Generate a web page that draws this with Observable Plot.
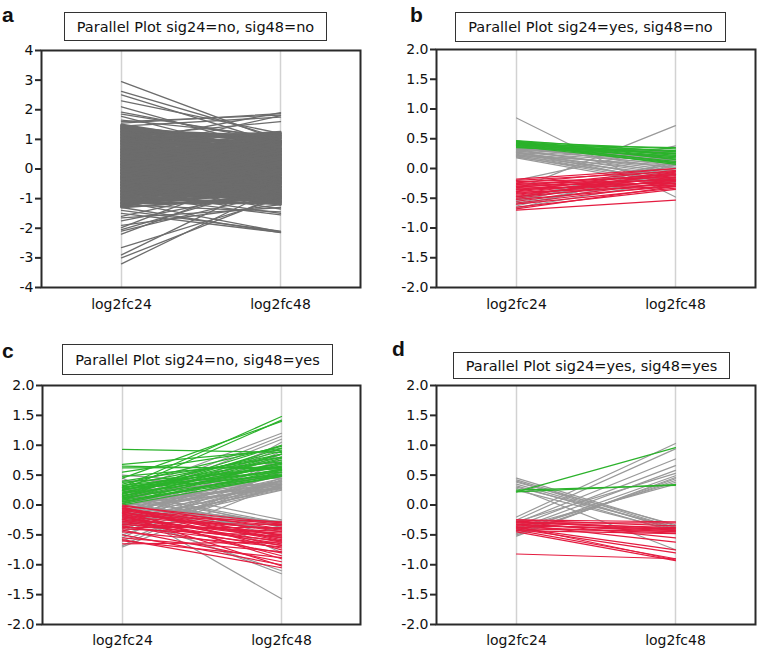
<!DOCTYPE html>
<html>
<head>
<meta charset="utf-8">
<script src="https://cdn.jsdelivr.net/npm/d3@7"></script>
<script src="https://cdn.jsdelivr.net/npm/@observablehq/plot@0.6"></script>
<style>
  html, body { margin: 0; padding: 0; background: #fff; }
  #chart { position: relative; width: 757px; height: 650px; overflow: hidden; background: #fff; font-family: "DejaVu Sans", sans-serif; }
  .panel { position: absolute; }
  .ttl { position: absolute; box-sizing: border-box; border: 1.5px solid #333; display: flex; align-items: center; justify-content: center; font-size: 14.5px; color: #111; white-space: nowrap; background: #fff; }
  .lbl { position: absolute; font-family: "Liberation Sans", Arial, sans-serif; font-weight: bold; font-size: 21px; line-height: 1; color: #111; }
</style>
</head>
<body>
<div id="chart"></div>
<script>
// ---------- data ----------
const xCats = ["log2fc24", "log2fc48"];
const ticksA = [-4, -3, -2, -1, 0, 1, 2, 3, 4];
const ticksB = [-2, -1.5, -1, -0.5, 0, 0.5, 1, 1.5, 2];
const titles = ["Parallel Plot sig24=no, sig48=no", "Parallel Plot sig24=yes, sig48=no", "Parallel Plot sig24=no, sig48=yes", "Parallel Plot sig24=yes, sig48=yes"];
const letters = ["a", "b", "c", "d"];

// panel a (all grey): outlying genes
const aOut24 = [2.95,2.62,2.5,2.3,2.1,1.92,1.85,1.78,1.65,1.6,1.55,1.45,0.9,0.6,1.1,
  -3.2,-3.0,-2.9,-2.65,-2.2,-2.1,-2.05,-1.98,-1.9,-1.75,-1.65,-1.6,-1.5,-1.4,-1.3,-1.1,-0.9,-0.7,-1.2,-0.5];
const aOut48 = [0.95,1.05,0.85,1.2,0.6,0.9,1.0,0.4,1.1,1.82,1.87,1.75,1.9,1.8,1.6,
  -0.6,-0.9,-0.3,-1.0,-0.2,-0.8,-0.5,0.1,-1.2,-0.7,-1.3,-0.4,-2.14,-2.1,-2.15,-2.12,-1.55,-1.5,-1.45,-1.35];
// panel a: dense core
const aCore24 = [
  1.45,1.38,1.32,1.25,1.2,1.15,1.1,1.05,0.98,0.95,0.9,0.85,0.8,0.75,0.72,0.68,0.62,0.58,0.55,0.5,
  0.46,0.42,0.38,0.35,0.3,0.26,0.22,0.18,0.15,0.1,0.06,0.02,-0.02,-0.06,-0.1,-0.14,-0.18,-0.22,-0.26,-0.3,
  -0.34,-0.38,-0.42,-0.46,-0.5,-0.55,-0.6,-0.65,-0.7,-0.75,-0.8,-0.85,-0.9,-0.95,-1.0,-1.05,-1.1,-1.15,-1.2,-1.25,
  -1.3,1.5,1.4,1.28,1.18,1.08,1.0,0.92,0.82,0.7,0.6,0.52,0.4,0.32,0.24,0.12,0.04,-0.04,-0.12,-0.2,
  -0.28,-0.36,-0.44,-0.52,-0.62,-0.72,-0.82,-0.92,-1.02,-1.12,-1.22,-1.28,0.88,0.66,0.44,0.2,-0.08,-0.32,-0.58,-0.78,
  -0.98,-1.18,1.22,1.02,0.78,0.56,0.36,0.14,-0.16,-0.4,-0.64,-0.88,-1.08,1.35,0.0,-0.24,0.28,-0.68,0.94,-1.26,
  1.12,0.48,-0.15,-0.86,1.3,0.08,-0.47,-1.16,0.64,-0.3,0.16,-0.74,1.42,-0.96,0.34,-0.54,
  1.48,1.43,1.37,1.33,1.27,1.23,1.17,1.13,1.07,1.03,0.97,0.93,0.87,0.83,0.77,0.73,0.67,0.63,0.57,0.53,
  0.47,0.43,0.37,0.33,0.27,0.23,0.17,0.13,0.07,0.03,-0.03,-0.07,-0.13,-0.17,-0.23,-0.27,-0.33,-0.37,-0.43,-0.47,
  -0.53,-0.57,-0.63,-0.67,-0.73,-0.77,-0.83,-0.87,-0.93,-0.97,-1.03,-1.07,-1.13,-1.17,-1.23,-1.27,
  1.46,1.36,1.26,1.16,1.06,0.96,0.86,0.76,0.66,0.56,0.46,0.36,0.26,0.16,0.06,-0.04,-0.14,-0.24,-0.34,-0.44,
  -0.54,-0.64,-0.74,-0.84,-0.94,-1.04,-1.14,-1.24];
const aCore48 = [
  0.2,-0.6,1.1,0.45,-1.0,0.8,-0.3,1.2,0.05,-0.85,0.6,-0.15,1.05,-0.5,0.3,-1.1,0.9,-0.2,0.5,-0.7,
  1.15,0.1,-0.4,0.7,-0.95,0.35,-0.1,0.95,-0.6,0.15,-1.15,0.55,-0.3,1.0,-0.75,0.25,-0.05,0.8,-0.9,0.4,
  -0.45,0.65,-1.05,0.0,0.9,-0.25,0.5,-0.8,0.2,-0.55,0.75,-1.0,0.1,-0.35,0.45,-0.7,0.05,-1.15,0.3,-0.5,
  -0.9,0.65,-0.2,0.95,-0.7,0.35,-0.45,1.25,-1.2,0.0,0.75,-0.9,0.45,-0.25,1.1,-0.5,0.85,-0.95,0.6,-0.15,
  1.15,-0.65,0.3,-1.2,0.95,-0.3,0.55,-0.6,0.15,-0.85,0.6,-0.1,0.25,-0.65,0.95,-0.8,0.4,-1.0,0.7,-0.1,
  0.85,-0.4,0.05,0.7,-0.35,0.2,-1.1,0.65,-0.55,0.85,-0.45,0.35,-1.05,0.5,0.0,0.1,-0.05,-0.95,-0.05,0.9,
  -0.2,0.8,1.05,0.4,-0.85,-0.6,-1.1,0.15,1.2,-0.75,-0.4,0.5,0.9,-0.3,-0.2,0.3,
  -0.82,0.62,-0.12,1.02,-0.58,0.28,-1.08,0.78,0.02,-0.38,1.18,-0.72,0.48,-0.22,0.88,-0.98,0.12,0.68,-0.48,1.08,
  -0.02,-0.88,0.38,-0.32,0.92,-0.62,0.18,-1.12,0.72,-0.18,0.52,-0.78,1.12,0.08,-0.42,0.82,-1.02,0.32,-0.08,0.58,
  -0.68,1.22,-0.28,0.42,-0.92,0.98,0.22,-0.52,0.68,-1.18,0.12,-0.36,0.86,-0.76,0.46,-0.14,
  0.58,-0.94,0.24,1.14,-0.46,0.74,-0.24,0.04,-1.06,0.94,-0.64,0.34,-0.04,0.84,-0.84,0.54,-0.34,1.04,0.14,-0.54,
  0.64,-1.14,0.44,-0.14,0.96,-0.74,0.26,-0.44];

// panel b
const bGrey24 = [0.85,-0.35,-0.2,
  0.18,0.19,0.2,0.21,0.22,0.23,0.24,0.25,0.26,0.27,0.28,0.29,0.3,0.31,0.32,0.33,0.34,0.35,0.36,0.37,0.38,0.4,0.42,0.22,0.27,0.33,
  -0.47,-0.5,-0.53,-0.56,-0.6,-0.63,-0.66,-0.68,-0.58,-0.52];
const bGrey48 = [-0.48,0.72,0.38,
  -0.3,-0.2,-0.26,-0.12,-0.22,-0.05,-0.16,0.02,-0.1,0.08,-0.18,0.12,-0.03,0.18,-0.08,0.22,0.05,0.28,0.1,0.3,0.0,0.15,0.25,0.05,-0.24,0.14,
  -0.1,0.05,-0.05,0.1,-0.15,0.0,-0.2,0.08,-0.08,0.12];
const bGreen24 = [0.47,0.46,0.45,0.45,0.44,0.43,0.43,0.42,0.41,0.41,0.4,0.39,0.38,0.37,0.36,0.44,0.4,0.35];
const bGreen48 = [0.28,0.22,0.33,0.15,0.25,0.1,0.2,0.3,0.07,0.18,0.24,0.12,0.29,0.09,0.2,0.16,0.35,0.26];
const bRed24 = [-0.18,-0.2,-0.22,-0.24,-0.25,-0.27,-0.28,-0.3,-0.31,-0.32,-0.33,-0.35,-0.36,-0.38,-0.39,-0.4,-0.42,-0.43,-0.45,-0.47,-0.48,-0.5,-0.52,-0.55,-0.6,-0.65,-0.7,-0.68,-0.58];
const bRed48 = [0.0,-0.05,-0.15,0.0,-0.2,-0.1,-0.25,-0.03,-0.18,-0.08,-0.28,-0.12,-0.22,-0.05,-0.16,-0.3,-0.1,-0.2,-0.14,-0.25,-0.06,-0.18,-0.3,-0.22,-0.33,-0.35,-0.53,-0.3,-0.27];

// panel c
const cGrey24 = [0.5,0.4,0.2,0.1,0.05,-0.05,0.0,-0.1,-0.15,-0.2,-0.25,-0.3,-0.35,-0.4,-0.45,-0.55,-0.7,-0.68,-0.5,-0.3,-0.2,-0.1,0.1,0.15,0.0,-0.05,0.05,-0.25,-0.15,0.25,-0.6,-0.45,
  0.3,0.2,0.1,0.05,-0.05,0.0,-0.1,0.15,-0.2,-0.15,0.45,0.2,-0.3,0.25,-0.05,-0.12,-0.22,-0.35,0.08,-0.02,
  -0.02,-0.08,-0.18,-0.28,0.03,-0.12,-0.22,-0.32];
const cGrey48 = [0.3,0.45,1.2,1.15,1.1,1.0,0.35,0.4,0.6,0.5,0.7,0.9,0.3,0.55,0.45,0.8,0.35,0.6,0.42,0.28,0.38,0.75,0.28,0.5,0.33,0.3,0.4,0.32,0.95,0.35,0.42,1.05,
  -0.25,-0.3,-0.35,-0.45,-1.57,-0.28,-0.4,-0.32,-1.1,-1.15,-0.8,-0.55,-0.27,-0.38,-0.3,0.55,0.85,0.25,0.7,0.48,
  0.27,0.3,0.34,0.26,0.36,0.44,0.29,0.4];
const cGreen24 = [0.93,0.68,0.65,0.62,0.55,0.48,0.45,0.3,0.25,0.35,0.32,0.3,0.28,0.26,0.24,0.22,0.2,0.18,0.16,0.15,0.14,0.12,0.1,0.08,0.06,0.05,0.03,0.02,0.0,0.3,0.27,0.2,0.12,0.08,0.33,0.4,0.18,0.1,0.25,0.38];
const cGreen48 = [0.88,0.92,0.6,0.63,0.95,0.72,1.4,1.48,1.42,0.98,0.85,0.55,0.75,0.5,0.9,0.65,0.52,0.8,0.6,0.7,0.95,0.5,0.6,0.85,0.48,0.55,0.72,0.58,0.48,0.65,0.58,0.85,0.78,0.5,0.62,0.8,1.0,0.68,0.7,0.62];
const cRed24 = [-0.02,-0.05,-0.08,-0.1,-0.12,-0.15,-0.18,-0.2,-0.22,-0.25,-0.28,-0.3,-0.32,-0.35,-0.38,-0.4,-0.42,-0.45,-0.5,-0.55,-0.58,-0.6,-0.65,-0.03,-0.06,-0.1,-0.14,-0.17,-0.24,-0.27,0.0,-0.08,-0.2,-0.33,-0.12,-0.36,-0.15,-0.05];
const cRed48 = [-0.3,-0.45,-0.6,-0.35,-0.5,-0.68,-0.28,-0.4,-0.55,-0.65,-0.33,-0.47,-0.6,-0.8,-0.38,-0.52,-0.95,-0.7,-1.0,-0.78,-1.05,-0.88,-0.62,-0.75,-0.58,-0.9,-0.42,-1.02,-0.5,-0.72,-0.4,-0.32,-0.62,-0.44,-0.55,-0.67,-0.85,-0.52];

// panel d
const dGrey24 = [0.45,0.42,0.4,0.38,0.35,0.32,0.3,0.28,0.25,-0.2,-0.25,-0.3,-0.35,-0.4,-0.45,-0.5,-0.48,-0.38,-0.42,-0.52,-0.28];
const dGrey48 = [-0.35,-0.38,-0.42,-0.33,-0.4,-0.45,-0.37,-0.75,-0.43,1.03,0.94,0.77,0.66,0.58,0.49,0.44,0.41,0.35,0.38,0.46,0.53];
const dGreen24 = [0.22,0.22,0.25];
const dGreen48 = [0.96,0.34,0.33];
const dRed24 = [-0.25,-0.27,-0.28,-0.3,-0.32,-0.33,-0.35,-0.37,-0.3,-0.28,-0.33,-0.38,-0.4,-0.42,-0.45,-0.36,-0.82,-0.25,-0.4,-0.43];
const dRed48 = [-0.35,-0.4,-0.42,-0.38,-0.45,-0.43,-0.4,-0.47,-0.3,-0.55,-0.62,-0.75,-0.8,-0.9,-0.93,-0.92,-0.9,-0.28,-0.44,-0.48];

// ---------- helpers ----------
function rows(v24, v48, prefix) {
  const out = [];
  v24.forEach((v, i) => {
    out.push({x: xCats[0], y: v, id: prefix + i});
    out.push({x: xCats[1], y: v48[i], id: prefix + i});
  });
  return out;
}

const GREY_A = "#6c6c6c", GREY = "#999999", GREEN = "#2bb22b", RED = "#e41c40";

function panel(groups, ticks, domain, fmt, box) {
  const marks = [
    Plot.ruleX(xCats, {x: d => d, stroke: "#d2d2d2", strokeWidth: 1.5})
  ];
  for (const g of groups) {
    marks.push(Plot.line(rows(g.a, g.b, g.name), {x: "x", y: "y", z: "id", stroke: g.color, strokeWidth: g.w || 1.2}));
  }
  marks.push(Plot.frame({stroke: "#2a2a2a", strokeWidth: 2}));
  marks.push(Plot.axisY(ticks, {tickSize: 6, tickPadding: 2, tickFormat: fmt, strokeWidth: 2, stroke: "#2a2a2a", fill: "#111"}));
  marks.push(Plot.axisX({tickSize: 0, tickPadding: box.xpad, fill: "#111"}));
  return Plot.plot({
    width: box.w, height: box.h,
    marginLeft: box.ml, marginRight: box.mr, marginTop: box.mt, marginBottom: box.mb,
    style: {fontFamily: "DejaVu Sans, sans-serif", fontSize: "14px", background: "transparent", overflow: "visible"},
    x: {type: "point", domain: xCats, padding: 0.5, label: null},
    y: {domain, label: null},
    marks
  });
}

const chart = document.getElementById("chart");
function place(el, left, top) {
  el.classList.add("panel");
  el.style.left = left + "px";
  el.style.top = top + "px";
  chart.appendChild(el);
}

const fmtInt = d => String(d);
const fmt1 = d => d.toFixed(1);

place(panel([{name: "ac", a: aCore24, b: aCore48, color: GREY_A, w: 2.2}, {name: "ao", a: aOut24, b: aOut48, color: GREY_A, w: 1.3}], ticksA, [-4, 4], fmtInt,
  {w: 378, h: 280, ml: 41, mr: 18, mt: 10, mb: 33, xpad: 12}), 0, 40);
place(panel([{name: "bg", a: bGrey24, b: bGrey48, color: GREY, w: 1.2}, {name: "bn", a: bGreen24, b: bGreen48, color: GREEN, w: 1.2}, {name: "br", a: bRed24, b: bRed48, color: RED}], ticksB, [-2, 2], fmt1,
  {w: 379, h: 280, ml: 58, mr: 2, mt: 9, mb: 33, xpad: 12}), 378, 40);
place(panel([{name: "cg", a: cGrey24, b: cGrey48, color: GREY}, {name: "cn", a: cGreen24, b: cGreen48, color: GREEN}, {name: "cr", a: cRed24, b: cRed48, color: RED}], ticksB, [-2, 2], fmt1,
  {w: 378, h: 275, ml: 42, mr: 18, mt: 10, mb: 26, xpad: 11}), 0, 375);
place(panel([{name: "dg", a: dGrey24, b: dGrey48, color: GREY}, {name: "dn", a: dGreen24, b: dGreen48, color: GREEN}, {name: "dr", a: dRed24, b: dRed48, color: RED}], ticksB, [-2, 2], fmt1,
  {w: 379, h: 275, ml: 58, mr: 2, mt: 10, mb: 26, xpad: 11}), 378, 375);

// title boxes and panel letters
const boxes = [
  {l: 64, t: 12, w: 263, h: 29},
  {l: 455, t: 12, w: 271, h: 30},
  {l: 62, t: 344, w: 271, h: 31},
  {l: 453, t: 352, w: 277, h: 27}
];
const letterPos = [[2, 4], [410, 4], [2, 340], [392, 338]];
titles.forEach((t, i) => {
  const d = document.createElement("div");
  d.className = "ttl";
  d.textContent = t;
  Object.assign(d.style, {left: boxes[i].l + "px", top: boxes[i].t + "px", width: boxes[i].w + "px", height: boxes[i].h + "px"});
  chart.appendChild(d);
  const s = document.createElement("div");
  s.className = "lbl";
  s.textContent = letters[i];
  s.style.left = letterPos[i][0] + "px";
  s.style.top = letterPos[i][1] + "px";
  chart.appendChild(s);
});
</script>
</body>
</html>
